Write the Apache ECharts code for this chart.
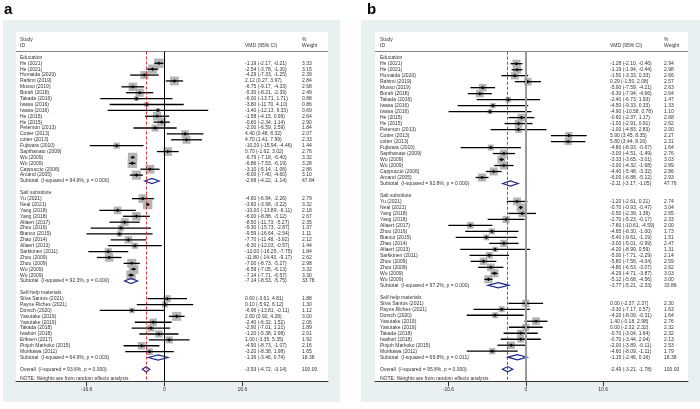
<!DOCTYPE html>
<html><head><meta charset="utf-8">
<script src="https://cdn.jsdelivr.net/npm/echarts@6/dist/echarts.min.js"></script>
<style>html,body{margin:0;padding:0;background:#fff}#c{width:700px;height:409px}</style>
</head><body><div id="c"></div>
<script>
// ---------------- Panel a data ----------------
const studiesA = [
"Education",
"He (2021)","He (2021)","Humaida (2020)","Rahimi (2019)","Musso (2019)","Borah (2018)","Takada (2016)","Iwasa (2016)","Iwasa (2016)","He (2015)","He (2015)","Peterson (2013)","Cotter (2013)","cotter (2013)","Fujiwara (2010)","Sapthanato (2009)","Wu (2009)","Wu (2009)","Cappuccio (2006)","Arcand (2005)",
"Subtotal  (I-squared = 94.9%, p = 0.000)",
".",
"Salt substitute",
"Yu (2021)","Neal (2021)","Yang (2018)","Yang (2018)","Allaert (2017)","Zhou (2016)","Bianco (2015)","Zhao (2014)","Allaert (2013)","Sarkkinen (2011)","Zhou (2009)","Zhou (2009)","Wu (2009)","Wu (2009)",
"Subtotal  (I-squared = 92.3%, p = 0.000)",
".",
"Self-help materials",
"Silva Santos (2021)","Payne Riches (2021)","Dorsch (2020)","Yasutake (2019)","Yasutake (2019)","Takada (2018)","Iwahori (2018)","Eriksen (2017)","Pinjoh Markoko (2015)","Morikawa (2011)",
"Subtotal  (I-squared = 64.9%, p = 0.003)",
".",
"Overall  (I-squared = 93.6%, p = 0.000)"
];
const esA = [null,-1.19,-2.54,-4.29,2.12,-6.75,-5.30,-6.00,-3.80,-1.40,-1.58,-0.60,-2.00,4.40,4.70,-10.20,0.70,-6.79,-6.86,-3.10,-6.00,-2.68,null,null,-4.60,-3.60,-10.00,-6.00,-8.50,-9.30,-9.59,-7.70,-6.30,-12.00,-11.80,-7.00,-6.59,-7.14,-7.14,null,null,0.60,0.10,-6.96,2.60,-2.40,-2.90,-1.20,1.00,-4.90,-3.20,-1.36,null,-3.93];
const loA = [null,-2.17,-3.78,-7.33,0.27,-9.17,-8.21,-13.71,-11.70,-12.13,-4.15,-2.34,-6.59,0.48,1.41,-15.94,-1.62,-7.18,-7.53,-5.14,-7.40,-4.22,null,null,-6.94,-3.98,-13.89,-8.88,-11.73,-15.73,-16.64,-11.48,-12.03,-16.25,-14.43,-8.73,-7.05,-7.71,-8.53,null,null,-3.61,-5.92,-13.81,0.92,-6.32,-7.01,-5.38,-3.35,-8.73,-8.38,-3.46,null,-4.72];
const hiA = [null,-0.21,-1.30,-1.25,3.97,-4.33,-2.39,1.71,4.10,9.33,0.99,1.14,2.59,8.32,7.99,-4.46,3.02,-6.40,-6.19,-1.06,-4.60,-1.14,null,null,-2.26,-3.22,-6.11,-3.12,-5.27,-2.87,-2.54,-3.92,-0.57,-7.75,-9.17,-5.27,-6.13,-6.57,-5.75,null,null,4.81,6.12,-0.11,4.28,1.52,1.21,2.98,5.35,-1.07,1.98,0.74,null,-3.14];
const wtA = [null,3.33,3.15,2.39,2.84,2.68,2.49,0.88,0.86,0.69,2.64,2.90,1.84,2.07,2.33,1.44,2.76,3.32,3.28,2.86,3.10,47.84,null,null,2.79,3.32,2.18,2.67,2.35,1.37,1.11,2.12,1.44,1.84,2.62,2.98,3.32,3.30,33.78,null,null,1.88,1.30,1.12,3.00,2.06,1.89,2.01,1.92,2.16,1.65,18.38,null,100.00];
const ticksA = [-16.6, 0, 16.6];

// ---------------- Panel b data ----------------
const studiesB = [
"Education",
"He (2021)","He (2021)","Humaida (2020)","Rahimi (2019)","Musso (2019)","Borah (2018)","Takada (2016)","Iwasa (2016)","Iwasa (2016)","He (2015)","He (2015)","Peterson (2013)","Cotter (2013)","cotter (2013)","Fujiwara (2010)","Sapthanato (2009)","Wu (2009)","Wu (2009)","Cappuccio (2006)","Arcand (2005)",
"Subtotal  (I-squared = 92.8%, p = 0.000)",
".",
"Salt substitute",
"Yu (2021)","Neal (2021)","Yang (2018)","Yang (2018)","Allaert (2017)","Zhou (2016)","Bianco (2015)","Zhao (2014)","Allaert (2013)","Sarkkinen (2011)","Zhou (2009)","Zhou (2009)","Wu (2009)","Wu (2009)",
"Subtotal  (I-squared = 97.2%, p = 0.000)",
".",
"Self-help materials",
"Silva Santos (2021)","Payne Riches (2021)","Dorsch (2020)","Yasutake (2019)","Yasutake (2019)","Takada (2018)","Iwahori (2018)","Pinjoh Markoko (2015)","Morikawa (2011)",
"Subtotal  (I-squared = 69.8%, p = 0.011)",
".",
"Overall  (I-squared = 95.8%, p = 0.000)"
];
const esB = [null,-1.28,-1.19,-1.50,0.29,-5.90,-6.30,-2.40,-4.50,-4.90,-0.60,-1.00,-1.00,5.90,5.80,-4.80,-3.00,-3.33,-3.00,-4.40,-6.00,-2.11,null,null,-1.20,-0.70,-0.50,-2.70,-7.60,-4.65,-5.40,-3.00,-4.20,-5.00,-5.80,-4.80,-4.29,-5.12,-3.77,null,null,0.00,-3.30,-4.20,1.40,0.00,-0.70,-0.70,-2.00,-4.60,-1.15,null,-2.49];
const loB = [null,-2.10,-1.94,-3.33,-1.50,-7.59,-7.94,-6.73,-9.33,-10.58,-2.37,-2.91,-4.83,3.45,3.44,-8.93,-4.51,-3.65,-4.32,-5.48,-6.88,-3.17,null,null,-2.61,-0.93,-2.39,-5.23,-10.61,-8.30,-9.61,-5.01,-8.99,-7.71,-7.56,-6.53,-4.71,-5.68,-5.21,null,null,-2.37,-7.17,-8.09,-0.18,-2.32,-3.04,-3.44,-3.89,-8.09,-2.46,null,-3.21];
const hiB = [null,-0.46,-0.44,0.33,2.08,-4.21,-4.66,1.93,0.33,0.78,1.17,0.91,2.83,8.35,8.16,-0.67,-1.49,-3.01,-1.68,-3.32,-5.12,-1.05,null,null,0.21,-0.47,1.39,-0.17,-4.59,-1.00,-1.19,-0.99,0.59,-2.29,-4.04,-3.07,-3.87,-4.56,-2.33,null,null,2.37,0.57,-0.31,2.98,2.32,1.64,2.04,-0.11,-1.11,0.16,null,-1.78];
const wtB = [null,2.94,2.98,2.66,2.57,2.63,2.64,1.47,1.33,1.10,2.68,2.62,2.00,2.27,2.31,1.64,2.76,3.03,2.89,2.86,2.93,47.76,null,null,2.74,3.04,2.65,2.33,2.00,1.73,1.51,2.47,1.31,2.14,2.59,2.62,3.03,3.00,33.86,null,null,2.30,1.63,1.64,2.76,2.32,2.32,2.13,2.53,1.79,18.38,null,100.00];
const ticksB = [-10.6, 0, 10.6];

const noteText = "NOTE: Weights are from random effects analysis";
const headStudy = "Study", headID = "ID", headES = "VMD (95% CI)", headPct = "%", headW = "Weight";

// ---------------- layout / style ----------------
const FF = '"Liberation Sans", Arial, sans-serif';
const FS = 5;
const TXT = '#333';
const BOX = '#b5b5b5';
const NAVY = '#1c2a8a';
const RED = '#c41e2a';

const LA = {label:'a', labelX:4, left:16, width:312, top:32, bottom:381.3, zeroPx:164.5, pxPerUnit:4.687,
  row1:57.4, rowSp:5.885, colStudy:4, colES:229, colW:286, boxK:5.2,
  zeroColor:'#000', zeroWidth:1, bgX:3, bgW:337};
const LB = {label:'b', labelX:367, left:375, width:313, top:32, bottom:381.3, zeroPx:525.8, pxPerUnit:7.297,
  row1:57.7, rowSp:5.99, colStudy:5, colES:235, colW:289, boxK:4.7,
  zeroColor:'#9a9a9a', zeroWidth:2, bgX:361, bgW:339};

const fmt = v => v.toFixed(2);

function panel(L, gi, names, es, lo, hi, wt, ticks) {
  const xMin = (L.left - L.zeroPx) / L.pxPerUnit;
  const xMax = (L.left + L.width - L.zeroPx) / L.pxPerUnit;
  const rowMin = 1 + (L.top - L.row1) / L.rowSp;
  const rowMax = 1 + (L.bottom - L.row1) / L.rowSp;
  const data = names.map((n, i) => {
    const kind = es[i] == null ? 0 : (/^(Subtotal|Overall)/.test(n) ? 2 : 1);
    return [kind ? es[i] : 0, i + 1, kind ? lo[i] : 0, kind ? hi[i] : 0, kind ? wt[i] : 0, i, kind];
  });
  data.push([0, names.length + 1.6, 0, 0, 0, -1, 3]);
  const ov = es[names.length - 1];

  const grid = {left: L.left, top: L.top, width: L.width, height: L.bottom - L.top, show: false};
  const xAxis = {type:'value', gridIndex: gi, min: xMin, max: xMax,
    axisLine:{show:true, onZero:false, lineStyle:{color:'#333', width:1}},
    axisTick:{show:true, customValues: ticks, length:5, lineStyle:{color:'#333', width:1}},
    axisLabel:{show:true, customValues: ticks, fontSize:FS, color:TXT, fontFamily:FF, margin:6,
      formatter: v => (Math.abs(v) < 1e-9 ? '0' : v.toFixed(1))},
    splitLine:{show:false}};
  const yAxis = {type:'value', gridIndex: gi, min: rowMin, max: rowMax, inverse: true, show: false};

  const series = {
    type:'custom', xAxisIndex: gi, yAxisIndex: gi, coordinateSystem:'cartesian2d',
    encode:{x:0, y:1}, data, clip:false, silent:true,
    renderItem: function(params, api) {
      const i = api.value(5), kind = api.value(6), row = api.value(1);
      const cs = params.coordSys;
      const y = api.coord([0, row])[1];
      const ch = [];
      const t = (x, text) => ({type:'text', z2: 10, style:{x, y, text, fontSize:FS, fontFamily:FF, fill:TXT, verticalAlign:'middle', align:'left'}});
      if (kind === 3) { ch.push(t(cs.x + L.colStudy, noteText)); return {type:'group', children: ch}; }
      ch.push(t(cs.x + L.colStudy, names[i]));
      if (kind > 0) {
        const e = api.value(0), l = api.value(2), h = api.value(3), w = api.value(4);
        const pE = api.coord([e, row])[0], pL = api.coord([l, row])[0], pH = api.coord([h, row])[0];
        if (kind === 1) {
          const s = L.boxK * Math.sqrt(w);
          ch.push({type:'rect', shape:{x:pE - s/2, y:y - s/2, width:s, height:s}, style:{fill:BOX}});
          ch.push({type:'line', shape:{x1:pL, y1:y, x2:pH, y2:y}, style:{stroke:'#000', lineWidth:1.3}});
          const d = 1.8;
          ch.push({type:'polygon', shape:{points:[[pE-d,y],[pE,y-d],[pE+d,y],[pE,y+d]]}, style:{fill:'#000'}});
        } else {
          const hh = 2.6;
          ch.push({type:'polygon', shape:{points:[[pL,y],[pE,y-hh],[pH,y],[pE,y+hh]]}, style:{fill:'none', stroke:NAVY, lineWidth:1.2}});
        }
        ch.push(t(cs.x + L.colES, fmt(e) + ' (' + fmt(l) + ', ' + fmt(h) + ')'));
        ch.push(t(cs.x + L.colW, fmt(w)));
      }
      return {type:'group', children: ch};
    },
    markLine: {silent:true, symbol:['none','none'], animation:false, label:{show:false},
      data: [
        [{coord:[xMin, 0], lineStyle:{color:'#666', width:0.8, type:'solid'}}, {coord:[xMax, 0]}],
        [{coord:[0, 0], lineStyle:{color:L.zeroColor, width:L.zeroWidth, type:'solid'}}, {coord:[0, rowMax]}],
        [{coord:[ov, 0], lineStyle:{color:RED, width:0.9, type:[3,2]}}, {coord:[ov, rowMax]}]
      ]}
  };

  const hy1 = L.row1 - 3.1 * L.rowSp + 0.2, hy2 = L.row1 - 2.1 * L.rowSp + 0.2;
  const ht = (x, y, text) => ({type:'text', z:5, style:{x, y, text, fontSize:FS, fontFamily:FF, fill:TXT, verticalAlign:'middle'}});
  const graphics = [
    {type:'rect', z:-20, shape:{x:L.bgX, y:20, width:L.bgW, height:382}, style:{fill:'#e9f0f2'}},
    {type:'rect', z:-19, shape:{x:L.left, y:L.top, width:L.width, height:L.bottom - L.top}, style:{fill:'#fff'}},
    {type:'text', z:5, style:{x:L.labelX, y:2, text:L.label, fontSize:15, fontWeight:'bold', fontFamily:FF, fill:'#000'}},
    ht(L.left + L.colStudy, hy1, headStudy),
    ht(L.left + L.colStudy, hy2, headID),
    ht(L.left + L.colES, hy2, headES),
    ht(L.left + L.colW, hy1, headPct),
    ht(L.left + L.colW, hy2, headW)
  ];
  return {grid, xAxis, yAxis, series, graphics};
}

const pa = panel(LA, 0, studiesA, esA, loA, hiA, wtA, ticksA);
const pb = panel(LB, 1, studiesB, esB, loB, hiB, wtB, ticksB);

const chart = echarts.init(document.getElementById('c'), null, {renderer:'canvas'});
chart.setOption({
  animation:false,
  backgroundColor:'#fff',
  grid:[pa.grid, pb.grid],
  xAxis:[pa.xAxis, pb.xAxis],
  yAxis:[pa.yAxis, pb.yAxis],
  series:[pa.series, pb.series],
  graphic:{elements: pa.graphics.concat(pb.graphics)}
});
</script></body></html>
